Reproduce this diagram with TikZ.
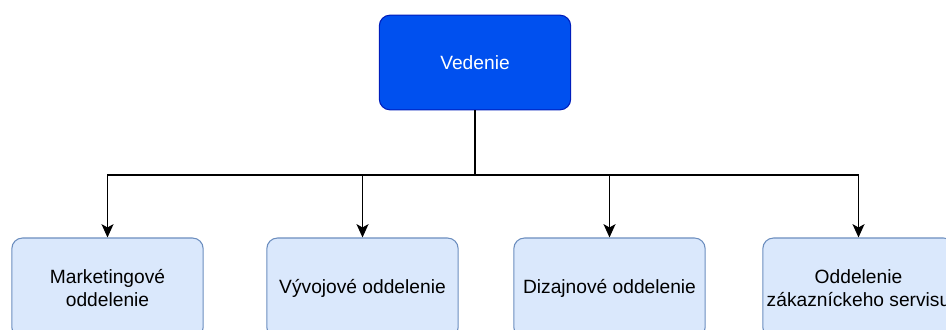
\documentclass[tikz,border=0pt]{standalone}
\usepackage{fontspec}
\setmainfont{Liberation Sans}
\usetikzlibrary{positioning, arrows.meta, shapes}
\definecolor{leadfill}{HTML}{0050EF}
\definecolor{leaddraw}{HTML}{001DBC}
\definecolor{deptfill}{HTML}{DAE8FC}
\definecolor{deptdraw}{HTML}{6C8EBF}
\tikzset{>={Stealth[length=10pt, width=9pt, inset=2.5pt]}, x=0.75pt, y=-0.75pt,
  lead/.style={rectangle, rounded corners=8pt, draw=leaddraw, fill=leadfill, text=white,
    minimum width=143.5pt, minimum height=71pt, font=\fontsize{14.4}{17}\selectfont, line width=0.8pt},
  dept/.style={rectangle, rounded corners=8pt, draw=deptdraw, fill=deptfill, align=center,
    minimum width=143.5pt, minimum height=75pt, inner xsep=0pt, font=\fontsize{14.4}{17}\selectfont, line width=0.8pt},
  link/.style={line width=1.1pt}}

\begin{document}
\begin{tikzpicture}
    \useasboundingbox (0,0) rectangle (946,329);
    \clip (0,0) rectangle (946,329);
        \node[lead] (vedenie) at (475,62.5) {Vedenie};
        \node[dept] (marketing) at (107.5,288) {Marketingové\\oddelenie};
        \node[dept] (vyvoj) at (362.5,288) {Vývojové oddelenie};
        \node[dept] (dizajn) at (609.5,288) {Dizajnové oddelenie};
        \node[dept] (servis) at (858.5,288) {Oddelenie\\zákazníckeho servisu};
        \coordinate (split) at (475,175);
        \draw[link] (vedenie.south) -- (split);
        \draw[link, ->] (split) -| (marketing.north);
        \draw[link, ->] (split) -| (vyvoj.north);
        \draw[link, ->] (split) -| (dizajn.north);
        \draw[link, ->] (split) -| (servis.north);
    \end{tikzpicture}
\end{document}
